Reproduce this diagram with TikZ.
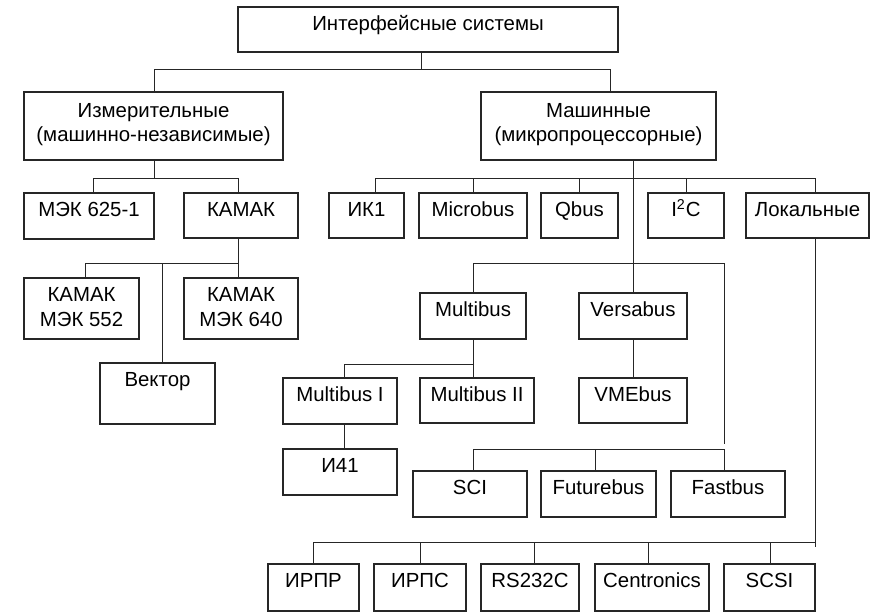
\documentclass[tikz,border=0pt]{standalone}
\usepackage{fontspec}
\setmainfont{Liberation Sans}
% box: name, left, top, right, bottom (in pixel-like units), text
\newcommand\bx[7][]{%
  \node[ibox, minimum width={(#5-#3)*0.5pt}, minimum height={(#6-#4)*0.5pt},
        label={[lbl,#1]north:{#7}}] (#2) at ({(#3+#5)/2},{(#4+#6)/2}) {};}
\newcommand\twol[2]{\begin{tabular}[t]{@{}c@{}}#1\\#2\end{tabular}}
\begin{document}
\begin{tikzpicture}[x=0.5pt,y=-0.5pt,
  ibox/.style={draw=black!85, line width=0.6pt, rectangle, inner sep=0pt},
  lbl/.style={anchor=base, inner sep=0pt, yshift=-12.2pt, font=\fontsize{10.2}{12.2}\selectfont},
  link/.style={draw=black!85, line width=0.5pt}]
\useasboundingbox[fill=white] (0,0) rectangle (880,612);

% boxes
\bx{top}{238}{7}{618}{52}{Интерфейсные системы}
\bx[yshift=-0.6pt]{izm}{24}{92}{283}{160}{\twol{Измерительные}{(машинно-независимые)}}
\bx[yshift=-0.6pt]{mash}{481}{92}{716}{160}{\twol{Машинные}{(микропроцессорные)}}

\bx{mek625}{24}{193}{154}{239}{МЭК 625-1}
\bx{kamak}{184}{193}{298}{238}{КАМАК}
\bx{ik1}{329}{193}{404}{238}{ИК1}
\bx{microbus}{419}{193}{527}{238}{Microbus}
\bx{qbus}{541}{193}{618}{238}{Qbus}
\bx{i2c}{648}{193}{724}{238}{I\textsuperscript{2}C}
\bx{lok}{746}{193}{869}{238}{Локальные}

\bx{k552}{24}{278}{139}{339}{\twol{КАМАК}{МЭК 552}}
\bx{k640}{184}{278}{298}{339}{\twol{КАМАК}{МЭК 640}}
\bx{vektor}{100}{363}{215}{424}{Вектор}

\bx{multibus}{420}{293}{526}{339}{Multibus}
\bx{versabus}{579}{293}{687}{339}{Versabus}
\bx{mb1}{283}{378}{397}{424}{Multibus I}
\bx{mb2}{420}{378}{534}{423}{Multibus II}
\bx{vme}{579}{378}{687}{423}{VMEbus}
\bx{i41}{283}{449}{397}{495}{И41}

\bx{sci}{413}{471}{527}{517}{SCI}
\bx{future}{541}{471}{656}{517}{Futurebus}
\bx{fast}{671}{471}{785}{517}{Fastbus}

\bx{irpr}{268}{564}{359}{611}{ИРПР}
\bx{irps}{374}{564}{466}{611}{ИРПС}
\bx{rs}{481}{564}{579}{611}{RS232C}
\bx{centr}{595}{564}{709}{611}{Centronics}
\bx{scsi}{724}{564}{815}{611}{SCSI}

% root split
\draw[link] (top.south -| 421,0) -- (421,69);
\draw[link] (izm.north -| 154,0) |- (610,69) -- (mash.north -| 610,0);

% measuring branch
\draw[link] (izm.south -| 154,0) -- (154,178);
\draw[link] (mek625.north -| 93,0) |- (238,178) -- (kamak.north -| 238,0);
\draw[link] (kamak.south -| 238,0) -- (k640.north -| 238,0);
\draw[link] (k552.north -| 85,0) |- (238,263);
\draw[link] (vektor.north -| 162,0) -- (162,263);

% machine branch
\draw[link] (mash.south -| 633,0) -- (versabus.north -| 633,0);
\draw[link] (ik1.north -| 375,0) |- (815.5,178) -- (lok.north -| 815.5,0);
\foreach \n/\x in {microbus/473, qbus/579, i2c/686}
  \draw[link] (\n.north -| \x,0) -- (\x,178);

% backplane buses
\draw[link] (multibus.north) |- (724,263) -- (724,444);
\draw[link] (multibus.south) -- (mb2.north -| multibus.south);
\draw[link] (mb1.north -| 344,0) |- (473,364);
\draw[link] (versabus.south) -- (vme.north);
\draw[link] (mb1.south -| 344,0) -- (i41.north -| 344,0);

\draw[link] (sci.north -| 473,0) |- (724,449) -- (fast.north -| 724,0);
\draw[link] (future.north -| 595,0) -- (595,449);

% local interfaces
\draw[link] (lok.south -| 815.5,0) -- (815.5,547);
\draw[link] (irpr.north -| 313,0) |- (815.5,542);
\foreach \n/\x in {irps/420, rs/534, centr/648, scsi/770}
  \draw[link] (\n.north -| \x,0) -- (\x,542);
\end{tikzpicture}
\end{document}
